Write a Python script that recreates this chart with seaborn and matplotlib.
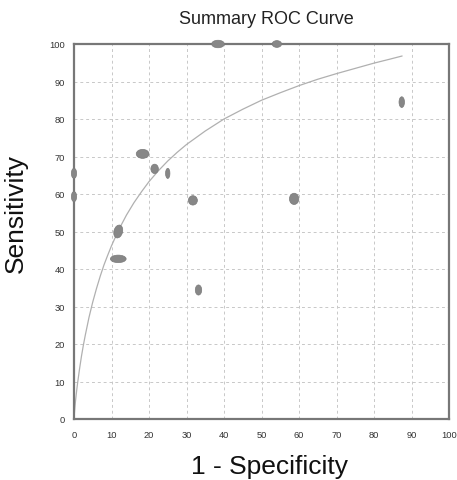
import matplotlib
matplotlib.use("Agg")
import matplotlib.pyplot as plt
from matplotlib.patches import Ellipse
import seaborn as sns
import pandas as pd

# Study points (1 - specificity, sensitivity) and marker sizes (data units)
fpr = [38.4, 54.1, 0.0, 0.0, 18.3, 21.5, 25.0, 31.7, 11.8, 11.8, 33.2, 58.7, 87.4]
tpr = [100.0, 100.0, 65.5, 59.3, 70.7, 66.7, 65.5, 58.3, 50.0, 42.7, 34.4, 58.7, 84.5]
ell_w = [3.4, 2.5, 1.4, 1.4, 3.4, 2.0, 1.15, 2.4, 2.3, 4.2, 1.7, 2.5, 1.45]
ell_h = [2.0, 1.8, 2.7, 2.7, 2.4, 2.5, 2.7, 2.5, 3.5, 2.0, 2.7, 3.0, 2.85]
ell_angle = [0, 0, 0, 0, 0, 0, 0, 0, -15, 0, 0, 0, 0]

# SROC curve
curve_x = [0.0, 0.02, 0.05, 0.1, 0.2, 0.35, 0.5, 0.75, 1, 1.5, 2, 2.5, 3, 4, 5, 6, 7, 8, 9, 10,
           12, 14, 16, 18, 20, 22.5, 25, 27.5, 30, 35, 40, 45, 50, 55, 60, 65, 70, 75, 80, 84, 87.5]
curve_y = [0.0, 0.4, 0.9, 1.5, 2.7, 4.3, 5.7, 7.9, 9.9, 13.5, 16.8, 19.7, 22.3, 27.1, 31.2, 34.8,
           38.1, 41.1, 43.7, 46.2, 50.6, 54.4, 57.7, 60.6, 63.3, 66.2, 68.8, 71.1, 73.2, 76.8, 80.0,
           82.6, 85.0, 87.0, 88.9, 90.6, 92.1, 93.5, 94.9, 95.9, 96.8]

ticks = [0, 10, 20, 30, 40, 50, 60, 70, 80, 90, 100]

sns.set_theme(style="white")
plt.rcParams['font.family'] = ['Liberation Sans', 'DejaVu Sans']

fig = plt.figure(figsize=(4.57, 4.81), dpi=100)
ax = fig.add_axes([74/457, 61/481, 375/457, 375/481])

df_curve = pd.DataFrame({"x": curve_x, "y": curve_y})
sns.lineplot(data=df_curve, x="x", y="y", sort=False, color="#b0b0b0", linewidth=0.9, ax=ax, zorder=2)

for x, y, w, h, a in zip(fpr, tpr, ell_w, ell_h, ell_angle):
    ax.add_patch(Ellipse((x, y), w, h, angle=a, facecolor="#878787", edgecolor="#7a7a7a",
                         linewidth=0.5, zorder=4, clip_on=False))

ax.set_xlim(0, 100)
ax.set_ylim(0, 100)
ax.set_xticks(ticks)
ax.set_yticks(ticks)
ax.set_xticklabels([str(t) for t in ticks])
ax.set_yticklabels([str(t) for t in ticks])
ax.tick_params(axis='both', length=0, labelsize=6.7, labelcolor="#333333")
ax.tick_params(axis='x', pad=8)
ax.tick_params(axis='y', pad=6.5)
ax.grid(True, color="#c8c8c8", linestyle=(0, (3, 3)), linewidth=0.7)
for s in ax.spines.values():
    s.set_color("#777777")
    s.set_linewidth(1.6)
    s.set_visible(True)

ax.set_xlabel("1 - Specificity", fontsize=19, color="#111111")
ax.xaxis.set_label_coords(0.521, -0.093)
ax.set_ylabel("Sensitivity", fontsize=19, color="#111111")
ax.yaxis.set_label_coords(-0.122, 0.55)
fig.text(266/457, 1 - 19/481, "Summary ROC Curve", fontsize=13, color="#222222",
         ha="center", va="center")

fig.savefig("out.png", dpi=100, facecolor="white")
